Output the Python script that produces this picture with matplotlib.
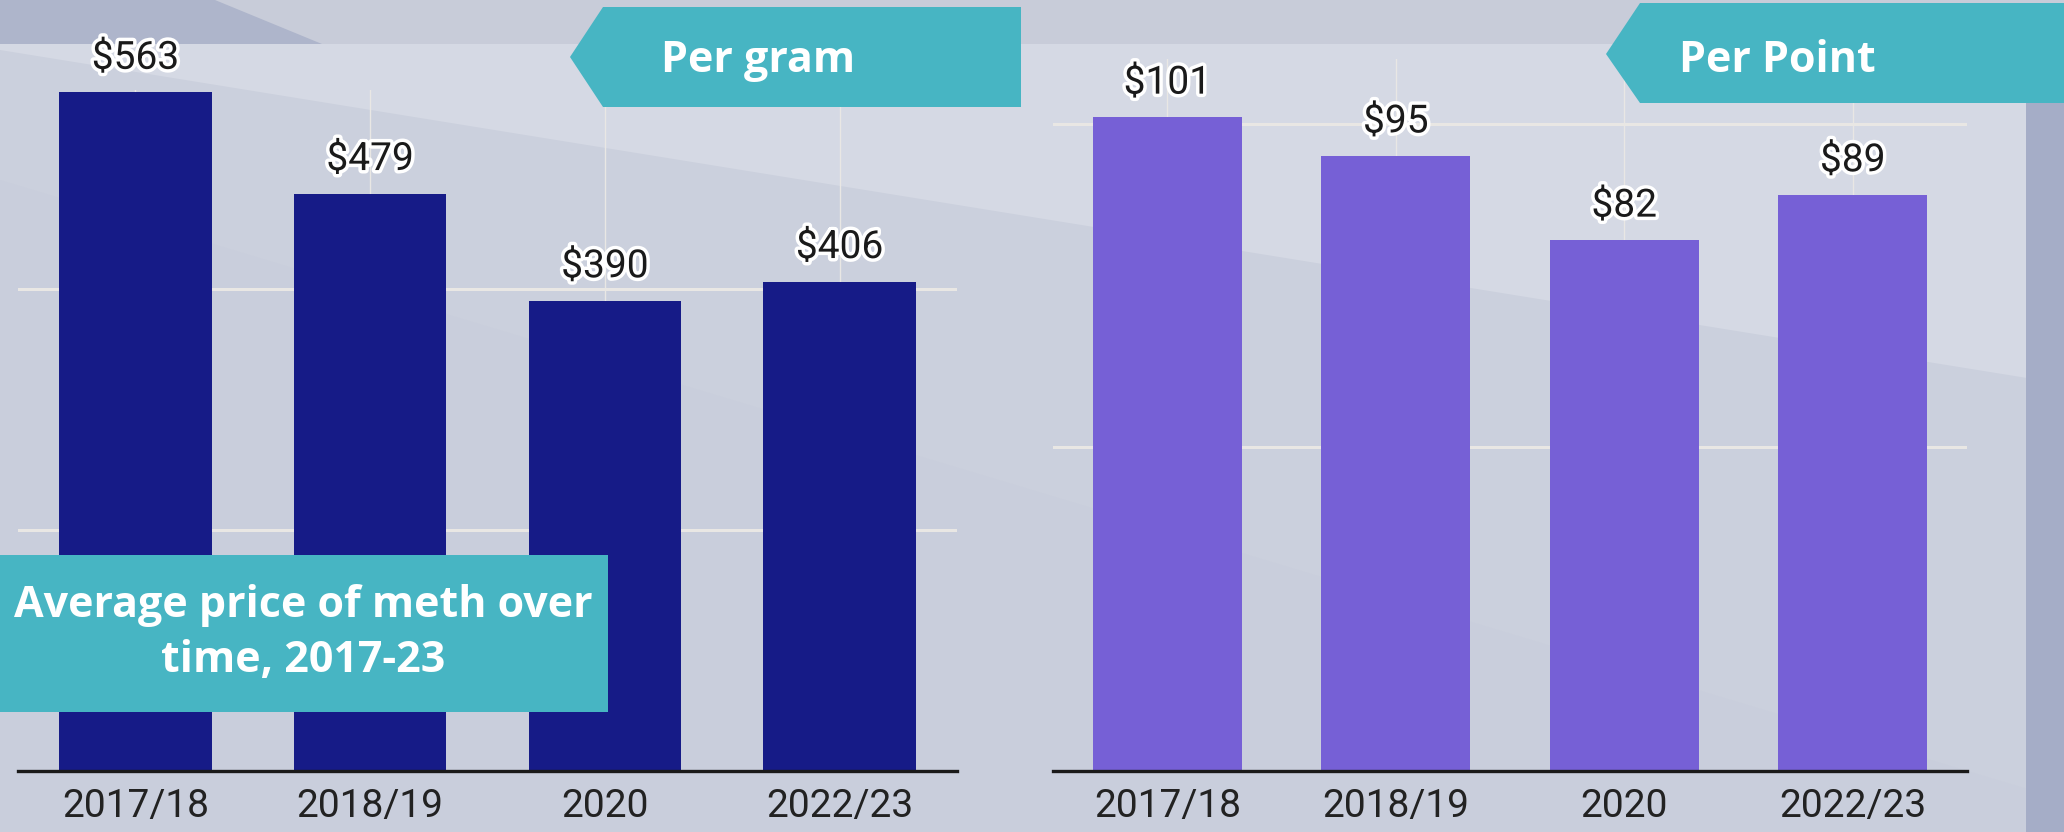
import matplotlib.pyplot as plt
from matplotlib.patches import Polygon
import matplotlib.patheffects as pe

# data
years = ['2017/18', '2018/19', '2020', '2022/23']
per_gram = [563, 479, 390, 406]
per_point = [101, 95, 82, 89]

W, H = 2064, 832


def fpoly(pts):
    # pixel coords (from top-left) -> figure fraction
    return [(x / W, 1 - y / H) for x, y in pts]


fig = plt.figure(figsize=(20.64, 8.32), dpi=100)
fig.patch.set_facecolor('#cbd0dd')

# background decoration
fig.patches.append(Polygon(fpoly([(0, 44), (W, 44), (W, 384), (0, 50)]),
                           closed=True, transform=fig.transFigure,
                           facecolor='#d5d9e4', edgecolor='none', zorder=-3))
fig.patches.append(Polygon(fpoly([(0, 180), (W, 800), (W, H), (0, H)]),
                           closed=True, transform=fig.transFigure,
                           facecolor='#c9cedc', edgecolor='none', zorder=-3))
fig.patches.append(Polygon(fpoly([(0, 0), (W, 0), (W, 44), (0, 44)]),
                           closed=True, transform=fig.transFigure,
                           facecolor='#c8ccd9', edgecolor='none', zorder=-2))
fig.patches.append(Polygon(fpoly([(0, 0), (215, 0), (322, 44), (0, 44)]),
                           closed=True, transform=fig.transFigure,
                           facecolor='#aeb5cb', edgecolor='none', zorder=-2))
fig.patches.append(Polygon(fpoly([(2026, 100), (W, 100), (W, H), (2026, H)]),
                           closed=True, transform=fig.transFigure,
                           facecolor='#a5adc7', edgecolor='none', zorder=-2))

grid_col = '#e9e7e4'


def draw_panel(ax, vals, color, top, hlines):
    x = range(len(vals))
    ax.bar(x, vals, width=0.65, color=color, zorder=3)
    ax.set_xlim(-0.5, 3.5)
    ax.set_ylim(0, top)
    ax.set_facecolor('none')
    for s in ['top', 'left', 'right']:
        ax.spines[s].set_visible(False)
    ax.spines['bottom'].set_linewidth(2.4)
    ax.spines['bottom'].set_color('#1a1a1a')
    ax.spines['bottom'].set_zorder(4)
    ax.set_yticks(hlines)
    ax.set_yticklabels([])
    ax.tick_params(axis='y', length=0)
    ax.set_xticks(list(x))
    ax.set_xticklabels(years, fontsize=28, family='Roboto', color='#222222')
    ax.tick_params(axis='x', length=0, pad=12)
    ax.grid(axis='y', color=grid_col, linewidth=2.2, zorder=1)
    ax.grid(axis='x', color=grid_col, linewidth=1.0, zorder=1)
    ax.set_axisbelow(True)
    for i, v in enumerate(vals):
        ax.annotate(f'${v}', xy=(i, v), xytext=(0, 17), textcoords='offset points',
                    ha='center', va='baseline', fontsize=28, family='Roboto',
                    color='#1a1a1a',
                    path_effects=[pe.withStroke(linewidth=5, foreground='white')])


ax1 = fig.add_axes([18 / W, 61 / H, 939 / W, 681 / H])
draw_panel(ax1, per_gram, '#161b87', 565, [200, 400])

ax2 = fig.add_axes([1053 / W, 61 / H, 914 / W, 712 / H])
draw_panel(ax2, per_point, '#7660d6', 110, [50, 100])

teal = '#47b5c3'
# "Per gram" arrow box
fig.patches.append(Polygon(fpoly([(570, 57), (603, 7), (1021, 7), (1021, 107), (603, 107)]),
                           closed=True, transform=fig.transFigure,
                           facecolor=teal, edgecolor='none', zorder=5))
fig.text(758 / W, 1 - 61 / H, 'Per gram', ha='center', va='center', fontsize=31,
         family='Open Sans', weight='bold', color='white', zorder=6)

# "Per Point" arrow box
fig.patches.append(Polygon(fpoly([(1606, 54), (1640, 3), (W, 3), (W, 103), (1640, 103)]),
                           closed=True, transform=fig.transFigure,
                           facecolor=teal, edgecolor='none', zorder=5))
fig.text(1777 / W, 1 - 60 / H, 'Per Point', ha='center', va='center', fontsize=31,
         family='Open Sans', weight='bold', color='white', zorder=6)

# title box
fig.patches.append(Polygon(fpoly([(0, 555), (608, 555), (608, 712), (0, 712)]),
                           closed=True, transform=fig.transFigure,
                           facecolor=teal, edgecolor='none', zorder=5))
fig.text(303 / W, 1 - 633 / H, 'Average price of meth over\ntime, 2017-23', ha='center',
         va='center', fontsize=31, family='Open Sans', weight='bold', color='white',
         linespacing=1.35, zorder=6)

fig.savefig('out.png', dpi=100)
